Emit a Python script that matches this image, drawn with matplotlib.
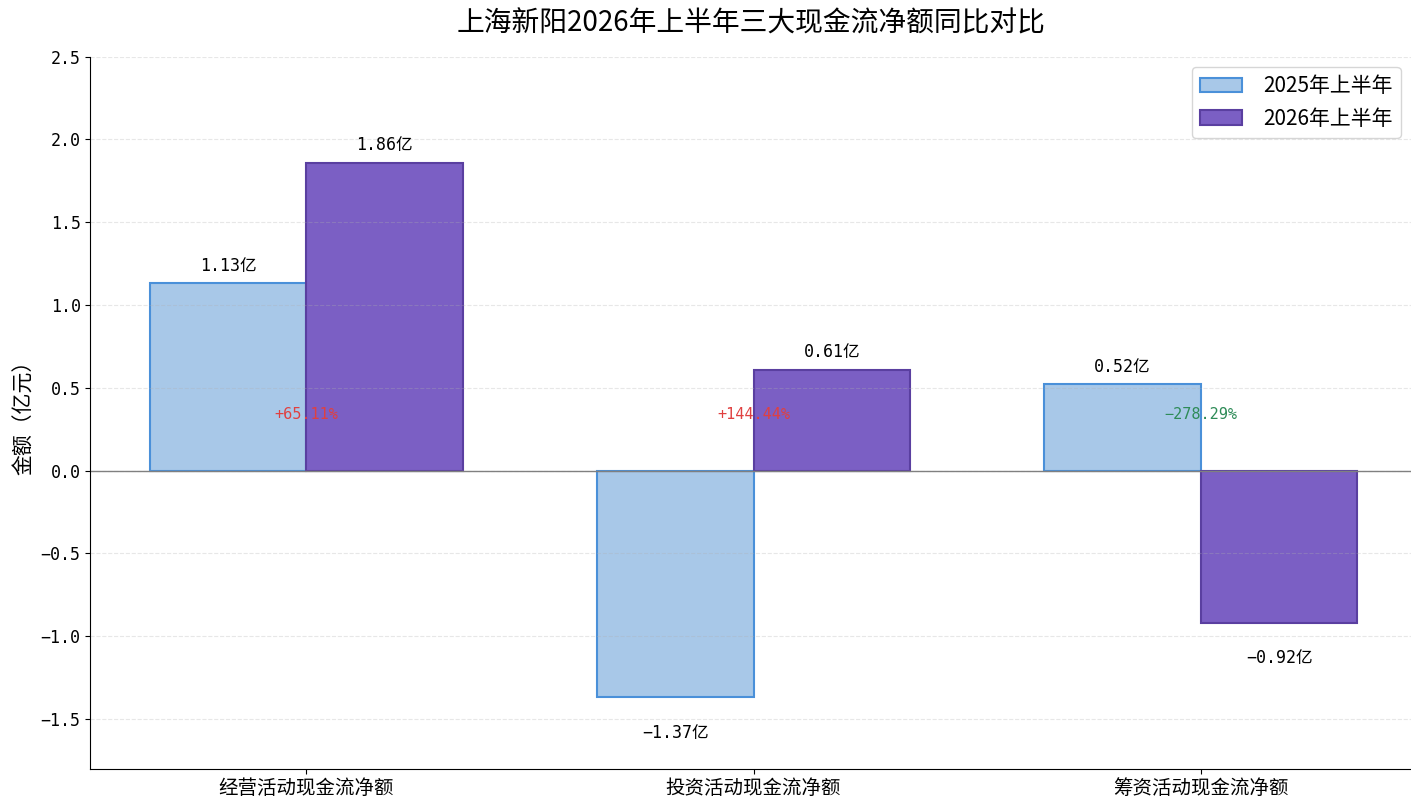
import matplotlib
matplotlib.use("Agg")
import matplotlib.pyplot as plt
import numpy as np

plt.rcParams['font.family'] = ['Noto Sans CJK SC', 'DejaVu Sans']
plt.rcParams['axes.unicode_minus'] = True
mono = ['DejaVu Sans Mono', 'Noto Sans CJK SC']

# data (亿元)
categories = ['经营活动现金流净额', '投资活动现金流净额', '筹资活动现金流净额']
h1_2025 = [1.13, -1.37, 0.52]
h1_2026 = [1.86, 0.61, -0.92]
yoy_labels = ['+65.11%', '+144.44%', '\u2212278.29%']

x = np.arange(len(categories))
width = 0.35

fig, ax = plt.subplots(figsize=(14.11, 8.09), dpi=100)
fig.subplots_adjust(left=0.064, right=1.0, top=0.93, bottom=0.05)

b1 = ax.bar(x - width / 2, h1_2025, width, label='2025年上半年',
            color='#a8c8e8', edgecolor='#4a90d9', linewidth=1.5)
b2 = ax.bar(x + width / 2, h1_2026, width, label='2026年上半年',
            color='#7b5fc4', edgecolor='#5a3fa0', linewidth=1.5)

# value labels
for bars in (b1, b2):
    for bar in bars:
        v = bar.get_height()
        cx = bar.get_x() + bar.get_width() / 2
        txt = f'{v:.2f}亿'.replace('-', '\u2212')
        if v >= 0:
            ax.text(cx, v + 0.05, txt, ha='center', va='bottom',
                    fontsize=12, family=mono)
        else:
            ax.text(cx, v - 0.16, txt, ha='center', va='top',
                    fontsize=12, family=mono)

# yoy labels
for i, lab in enumerate(yoy_labels):
    col = '#e04040' if lab.startswith('+') else '#2e8b57'
    ax.text(x[i], 0.34, lab, ha='center', va='center', fontsize=11,
            color=col, family=mono)

ax.axhline(0, color='gray', linewidth=1)
ax.set_xlim(-0.483, 2.47)
ax.set_ylim(-1.8, 2.5)
ax.set_xticks(x)
ax.set_xticklabels(categories, fontsize=14)
for lab in ax.get_yticklabels():
    lab.set_family(mono)
ax.tick_params(axis='y', labelsize=12)
ax.set_ylabel('金额（亿元）', fontsize=15)
ax.set_title('上海新阳2026年上半年三大现金流净额同比对比', fontsize=20, pad=18)
ax.grid(axis='y', linestyle='--', alpha=0.3)
ax.spines['top'].set_visible(False)
ax.spines['right'].set_visible(False)
ax.legend(loc='upper right', fontsize=15, handletextpad=1.0)

plt.savefig('out.png')
